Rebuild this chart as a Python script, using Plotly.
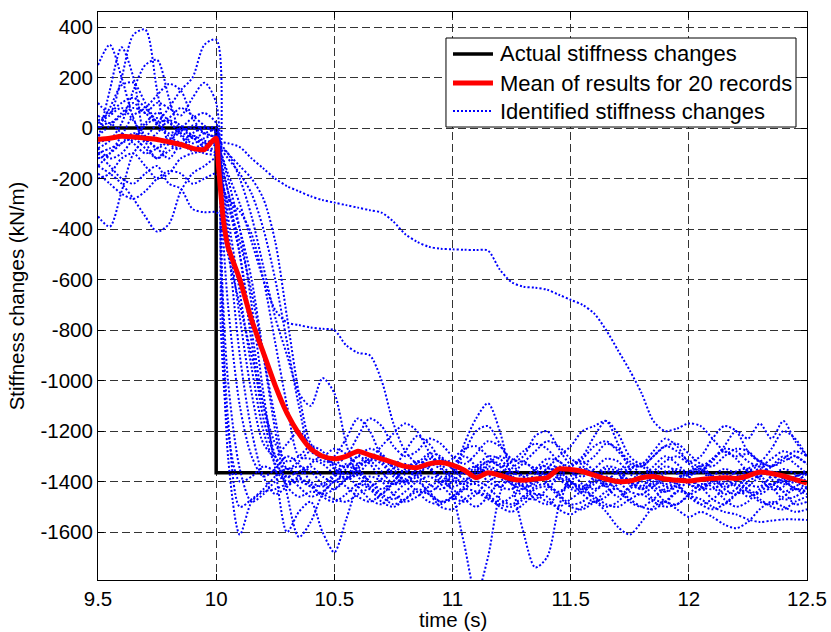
import plotly.graph_objects as go

# Sample times (s) shared by the 20 identified records
time_s = [9.50, 9.55, 9.60, 9.65, 9.70, 9.75, 9.80, 9.85, 9.90, 9.95, 10.00, 10.02,
          10.05, 10.10, 10.15, 10.20, 10.25, 10.30, 10.35, 10.40, 10.45, 10.50,
          10.55, 10.60, 10.65, 10.70, 10.75, 10.80, 10.85, 10.90, 10.95, 11.00,
          11.05, 11.10, 11.15, 11.20, 11.25, 11.30, 11.35, 11.40, 11.45, 11.50,
          11.55, 11.60, 11.65, 11.70, 11.75, 11.80, 11.85, 11.90, 11.95, 12.00,
          12.05, 12.10, 12.15, 12.20, 12.25, 12.30, 12.35, 12.40, 12.45, 12.50]

# Identified stiffness changes (kN/m), one list per record
rec01 = [100, 60, 200, 370, 390, 150, -60, -80, -30, -50, -60, -300,
         -700, -1100, -1300, -1380, -1350, -1300, -1330, -1400, -1420, -1380,
         -1340, -1360, -1420, -1450, -1400, -1350, -1380, -1440, -1410, -1360,
         -1300, -1340, -1400, -1420, -1380, -1330, -1350, -1410, -1440, -1400,
         -1350, -1370, -1420, -1460, -1420, -1380, -1400, -1440, -1420, -1380,
         -1360, -1400, -1450, -1430, -1380, -1350, -1390, -1440, -1420, -1390]
rec02 = [250, 330, 200, 40, -50, -20, 30, 10, -40, -20, -10, -150,
         -400, -750, -1050, -1250, -1300, -1250, -1200, -1260, -1320, -1300,
         -1230, -1150, -1200, -1300, -1340, -1280, -1220, -1250, -1310, -1330,
         -1280, -1200, -1180, -1250, -1320, -1300, -1220, -1200, -1270, -1330,
         -1300, -1220, -1160, -1210, -1300, -1330, -1280, -1230, -1260, -1320,
         -1300, -1230, -1180, -1200, -1280, -1320, -1270, -1200, -1230, -1300]
rec03 = [-50, 150, 320, 200, -50, -120, -60, 0, -30, -80, -100, -200,
         -300, -500, -800, -1100, -1300, -1420, -1460, -1440, -1450, -1470,
         -1480, -1450, -1430, -1460, -1490, -1470, -1440, -1450, -1480, -1460,
         -1430, -1440, -1470, -1490, -1460, -1430, -1450, -1480, -1500, -1470,
         -1440, -1460, -1490, -1500, -1470, -1450, -1480, -1500, -1490, -1460,
         -1470, -1500, -1520, -1530, -1550, -1560, -1555, -1550, -1550, -1552]
rec04 = [-80, -50, 20, 150, 250, 270, 120, -20, -60, -40, -30, -120,
         -250, -500, -850, -1150, -1300, -1350, -1320, -1280, -1300, -1350,
         -1370, -1330, -1300, -1320, -1370, -1390, -1350, -1300, -1340, -1450,
         -1650, -1850, -1700, -1450, -1350, -1320, -1360, -1400, -1380, -1340,
         -1320, -1360, -1410, -1390, -1350, -1330, -1370, -1420, -1400, -1360,
         -1340, -1380, -1410, -1390, -1350, -1330, -1370, -1400, -1380, -1360]
rec05 = [20, 50, 80, 30, -30, 20, 80, 150, 200, 330, 350, -400,
         -1300, -1610, -1480, -1440, -1430, -1410, -1400, -1420, -1450, -1430,
         -1390, -1370, -1400, -1450, -1470, -1440, -1400, -1380, -1410, -1460,
         -1480, -1450, -1400, -1380, -1410, -1460, -1470, -1430, -1390, -1400,
         -1450, -1480, -1460, -1410, -1390, -1420, -1470, -1480, -1440, -1400,
         -1420, -1470, -1490, -1450, -1400, -1380, -1420, -1470, -1460, -1430]
rec06 = [-150, -100, -30, 50, 80, 130, 175, 150, 40, -20, -40, -100,
         -200, -400, -700, -1050, -1350, -1600, -1520, -1480, -1600, -1680,
         -1550, -1420, -1380, -1400, -1450, -1480, -1460, -1420, -1400, -1430,
         -1470, -1500, -1460, -1400, -1380, -1420, -1470, -1490, -1450, -1410,
         -1420, -1470, -1500, -1480, -1430, -1400, -1430, -1480, -1490, -1450,
         -1410, -1420, -1470, -1500, -1480, -1430, -1410, -1440, -1490, -1480]
rec07 = [0, 80, 170, 180, 100, 20, -30, -10, 0, -20, -40, -150,
         -350, -650, -950, -1200, -1330, -1380, -1360, -1340, -1380, -1400,
         -1350, -1300, -1330, -1390, -1410, -1370, -1320, -1340, -1400, -1380,
         -1250, -1150, -1090, -1200, -1400, -1600, -1740, -1700, -1500, -1380,
         -1340, -1380, -1420, -1400, -1350, -1340, -1380, -1410, -1390, -1360,
         -1350, -1390, -1420, -1400, -1360, -1340, -1370, -1410, -1400, -1370]
rec08 = [-100, -80, -60, -40, -80, -120, -90, -60, -80, -60, -50, -55,
         -60, -75, -120, -160, -200, -230, -250, -270, -285, -295,
         -305, -315, -325, -335, -370, -420, -450, -470, -478, -480,
         -482, -483, -485, -560, -610, -628, -632, -640, -660, -680,
         -700, -735, -800, -880, -960, -1050, -1160, -1200, -1190, -1170,
         -1180, -1230, -1280, -1300, -1290, -1320, -1340, -1320, -1300, -1330]
rec09 = [-200, -180, -120, -100, -150, -200, -180, -120, -100, -90, -80, -100,
         -180, -300, -450, -600, -720, -770, -780, -790, -795, -800,
         -860, -890, -900, -1000, -1170, -1280, -1330, -1350, -1380, -1400,
         -1410, -1380, -1350, -1370, -1410, -1430, -1400, -1370, -1390, -1430,
         -1440, -1410, -1380, -1400, -1440, -1450, -1420, -1390, -1410, -1450,
         -1430, -1400, -1390, -1420, -1460, -1440, -1410, -1400, -1430, -1450]
rec10 = [-350, -390, -250, -100, -50, -80, -120, -60, -20, 0, -20, -500,
         -1000, -1350, -1480, -1450, -1400, -1380, -1420, -1460, -1440, -1400,
         -1380, -1420, -1470, -1490, -1450, -1410, -1400, -1440, -1480, -1470,
         -1430, -1400, -1420, -1470, -1490, -1460, -1420, -1410, -1450, -1490,
         -1480, -1440, -1410, -1430, -1480, -1500, -1470, -1430, -1420, -1460,
         -1490, -1470, -1430, -1410, -1440, -1480, -1490, -1460, -1430, -1440]
rec11 = [-150, -180, -220, -280, -350, -410, -380, -250, -180, -150, -120, -200,
         -300, -450, -650, -900, -1150, -1350, -1340, -1360, -1410, -1430,
         -1390, -1340, -1320, -1360, -1410, -1400, -1350, -1310, -1330, -1380,
         -1400, -1360, -1320, -1340, -1390, -1410, -1370, -1330, -1350, -1400,
         -1420, -1380, -1340, -1350, -1400, -1420, -1380, -1340, -1360, -1410,
         -1420, -1380, -1350, -1370, -1410, -1420, -1380, -1350, -1370, -1400]
rec12 = [-100, -150, -200, -220, -180, -150, -220, -240, -320, -333, -333, -350,
         -500, -700, -900, -1100, -1250, -1320, -1300, -1260, -1280, -1330,
         -1300, -1220, -1150, -1180, -1260, -1300, -1280, -1230, -1250, -1300,
         -1330, -1290, -1240, -1260, -1310, -1320, -1280, -1240, -1260, -1310,
         -1330, -1300, -1250, -1270, -1320, -1340, -1300, -1260, -1280, -1320,
         -1340, -1310, -1270, -1280, -1320, -1340, -1310, -1280, -1300, -1330]
rec13 = [0, 20, -20, -40, 10, 40, 20, -10, 10, 0, 0, -800,
         -1200, -1400, -1380, -1340, -1360, -1400, -1380, -1330, -1300, -1340,
         -1390, -1370, -1320, -1300, -1350, -1400, -1380, -1330, -1310, -1350,
         -1390, -1370, -1330, -1300, -1330, -1380, -1390, -1350, -1300, -1260,
         -1200, -1180, -1160, -1250, -1350, -1380, -1340, -1300, -1330, -1370,
         -1360, -1310, -1280, -1310, -1360, -1380, -1340, -1300, -1330, -1370]
rec14 = [-60, -40, -30, -60, -100, -80, -40, -60, -90, -70, -60, -200,
         -450, -900, -1200, -1380, -1450, -1420, -1390, -1410, -1460, -1480,
         -1450, -1410, -1430, -1480, -1500, -1470, -1430, -1450, -1500, -1510,
         -1470, -1440, -1460, -1500, -1520, -1490, -1450, -1460, -1510, -1530,
         -1500, -1480, -1520, -1580, -1610, -1560, -1500, -1480, -1510, -1540,
         -1520, -1540, -1570, -1585, -1560, -1510, -1480, -1500, -1520, -1510]
rec15 = [30, 60, 100, 120, 80, 20, -20, 0, 40, 60, 20, -60,
         -100, -150, -200, -280, -450, -750, -1050, -1250, -1300, -1330,
         -1340, -1300, -1270, -1290, -1340, -1360, -1330, -1290, -1300, -1350,
         -1370, -1340, -1300, -1310, -1360, -1380, -1350, -1310, -1320, -1360,
         -1380, -1350, -1310, -1320, -1370, -1390, -1360, -1320, -1300, -1330,
         -1360, -1320, -1260, -1200, -1230, -1170, -1230, -1160, -1240, -1300]
rec16 = [50, 20, 60, 100, 60, 100, 80, 50, 120, 180, 100, -600,
         -1150, -1500, -1470, -1430, -1380, -1350, -1380, -1420, -1410, -1370,
         -1330, -1350, -1400, -1430, -1400, -1350, -1320, -1340, -1390, -1420,
         -1400, -1350, -1320, -1330, -1380, -1420, -1410, -1370, -1340, -1360,
         -1410, -1430, -1400, -1360, -1340, -1370, -1420, -1440, -1410, -1370,
         -1350, -1380, -1430, -1450, -1420, -1380, -1360, -1390, -1430, -1420]
rec17 = [-120, -100, -60, -20, -40, -80, -50, -20, -40, -60, -70, -80,
         -100, -200, -350, -550, -750, -900, -1050, -1100, -990, -1050,
         -1250, -1380, -1420, -1390, -1350, -1330, -1360, -1410, -1430, -1400,
         -1360, -1340, -1370, -1420, -1430, -1390, -1350, -1340, -1380, -1420,
         -1430, -1390, -1350, -1360, -1400, -1430, -1410, -1370, -1350, -1380,
         -1420, -1430, -1400, -1360, -1350, -1390, -1430, -1420, -1380, -1370]
rec18 = [-30, 10, 50, 80, 60, 20, 40, 80, 50, 10, -20, -80,
         -120, -180, -260, -400, -600, -850, -1100, -1280, -1300, -1270,
         -1290, -1330, -1310, -1260, -1210, -1170, -1200, -1280, -1330, -1310,
         -1270, -1260, -1300, -1340, -1320, -1280, -1250, -1270, -1320, -1340,
         -1310, -1260, -1240, -1280, -1330, -1340, -1300, -1260, -1250, -1290,
         -1330, -1340, -1300, -1270, -1280, -1320, -1340, -1310, -1280, -1300]
rec19 = [-180, -220, -260, -280, -250, -200, -170, -180, -220, -200, -180, -220,
         -280, -330, -420, -600, -850, -1100, -1300, -1310, -1330, -1370,
         -1390, -1350, -1310, -1330, -1380, -1400, -1370, -1330, -1350, -1390,
         -1410, -1380, -1340, -1360, -1400, -1420, -1390, -1350, -1360, -1400,
         -1430, -1400, -1360, -1370, -1410, -1430, -1400, -1360, -1370, -1410,
         -1430, -1400, -1370, -1390, -1430, -1450, -1420, -1390, -1400, -1430]
rec20 = [-80, -120, -100, -40, 20, 60, 30, -30, -80, -100, -110, -150,
         -250, -400, -600, -900, -1200, -1450, -1620, -1560, -1450, -1400,
         -1420, -1460, -1480, -1450, -1410, -1400, -1440, -1480, -1490, -1460,
         -1420, -1410, -1450, -1490, -1500, -1470, -1430, -1420, -1460, -1500,
         -1510, -1480, -1440, -1430, -1470, -1500, -1510, -1480, -1440, -1450,
         -1490, -1510, -1490, -1450, -1440, -1470, -1500, -1510, -1480, -1460]

records = [rec01, rec02, rec03, rec04, rec05, rec06, rec07, rec08, rec09, rec10,
           rec11, rec12, rec13, rec14, rec15, rec16, rec17, rec18, rec19, rec20]
assert all(len(r) == len(time_s) for r in records)

# Actual (step) stiffness change
actual_t = [9.5, 10.0, 10.0, 12.5]
actual_k = [0, 0, -1365, -1365]

# Mean of the 20 identified records
mean_t = [9.50, 9.55, 9.60, 9.65, 9.70, 9.75, 9.80, 9.85, 9.90, 9.95, 9.98, 10.00,
          10.01, 10.03, 10.05, 10.10, 10.15, 10.20, 10.25, 10.30, 10.35, 10.40,
          10.45, 10.50, 10.55, 10.60, 10.65, 10.70, 10.75, 10.80, 10.85, 10.90,
          10.95, 11.00, 11.05, 11.10, 11.15, 11.20, 11.25, 11.30, 11.35, 11.40,
          11.45, 11.50, 11.55, 11.60, 11.65, 11.70, 11.75, 11.80, 11.85, 11.90,
          11.95, 12.00, 12.05, 12.10, 12.15, 12.20, 12.25, 12.30, 12.35, 12.40,
          12.45, 12.50]
mean_k = [-45, -40, -32, -35, -40, -45, -55, -65, -80, -85, -55, -40,
          -150, -360, -470, -600, -760, -890, -1020, -1130, -1210, -1270,
          -1300, -1310, -1300, -1280, -1295, -1310, -1325, -1340, -1345, -1330,
          -1325, -1335, -1355, -1385, -1365, -1375, -1390, -1395, -1390, -1385,
          -1350, -1352, -1360, -1375, -1390, -1400, -1398, -1385, -1380, -1390,
          -1395, -1398, -1392, -1388, -1385, -1388, -1378, -1362, -1368, -1378,
          -1392, -1406]

x_ticks = [9.5, 10, 10.5, 11, 11.5, 12, 12.5]
x_tick_text = ["9.5", "10", "10.5", "11", "11.5", "12", "12.5"]
y_ticks = [400, 200, 0, -200, -400, -600, -800, -1000, -1200, -1400, -1600]
y_tick_text = ["400", "200", "0", "-200", "-400", "-600", "-800", "-1000",
               "-1200", "-1400", "-1600"]

legend_names = ["Actual stiffness changes", "Mean of results for 20 records",
                "Identified stiffness changes"]

FONT = "Liberation Sans, Arial, Helvetica, sans-serif"
TICK_SIZE = 20.5
LEGEND_SIZE = 22

BLACK = "black"
RED = "#ff0000"
BLUE = "#0000ff"
BLUE_DASH = "2px,2px"

fig = go.Figure()

fig.add_trace(go.Scatter(
    x=actual_t, y=actual_k, mode="lines", name=legend_names[0],
    line=dict(color=BLACK, width=3.5)))

for rec in records:
    fig.add_trace(go.Scatter(
        x=time_s, y=rec, mode="lines", name=legend_names[2],
        line=dict(color=BLUE, width=2, dash=BLUE_DASH, shape="spline",
                  smoothing=0.8),
        hoverinfo="skip"))

fig.add_trace(go.Scatter(
    x=mean_t, y=mean_k, mode="lines", name=legend_names[1],
    line=dict(color=RED, width=5, shape="spline", smoothing=0.6)))

axis_common = dict(
    showline=True, linecolor="black", linewidth=1, mirror="ticks",
    ticks="inside", ticklen=6, tickcolor="black", automargin=False,
    showgrid=True, gridcolor="#333333", gridwidth=1, griddash="8px,4px",
    zeroline=False, tickfont=dict(family=FONT, size=TICK_SIZE, color="black"),
)

fig.update_xaxes(range=[9.5, 12.5], tickvals=x_ticks, ticktext=x_tick_text,
                 ticklabelstandoff=0, **axis_common)
fig.update_yaxes(range=[-1790, 460], tickvals=y_ticks, ticktext=y_tick_text,
                 title=dict(text="Stiffness changes (kN/m)", standoff=10,
                            font=dict(family=FONT, size=TICK_SIZE, color="black")),
                 **axis_common)

# Boxed legend in the upper right of the axes (paper coordinates)
box_x0, box_x1, box_y0, box_y1 = 0.4908, 0.9845, 0.7975, 0.9542
row_y = [0.9261, 0.8750, 0.8257]
sample_x0, sample_x1, text_x = 0.5007, 0.5571, 0.5642
sample_styles = [dict(color=BLACK, width=3.5), dict(color=RED, width=5),
                 dict(color=BLUE, width=2, dash=BLUE_DASH)]

shapes = [dict(type="rect", xref="paper", yref="paper", x0=box_x0, x1=box_x1,
               y0=box_y0, y1=box_y1, line=dict(color="black", width=1),
               fillcolor="white", layer="above")]
annotations = []
for y, style, name in zip(row_y, sample_styles, legend_names):
    shapes.append(dict(type="line", xref="paper", yref="paper", x0=sample_x0,
                       x1=sample_x1, y0=y, y1=y, line=style, layer="above"))
    annotations.append(dict(text=name, xref="paper", yref="paper", x=text_x, y=y,
                            xanchor="left", yanchor="middle", showarrow=False,
                            font=dict(family=FONT, size=LEGEND_SIZE, color="black")))

# x-axis title
annotations.append(dict(text="time (s)", xref="paper", yref="paper", x=0.5,
                        y=-0.0704, xanchor="center", yanchor="middle",
                        showarrow=False,
                        font=dict(family=FONT, size=TICK_SIZE, color="black")))

fig.update_layout(
    width=831, height=632,
    margin=dict(l=98, r=24, t=12, b=52),
    paper_bgcolor="white", plot_bgcolor="white",
    font=dict(family=FONT, size=TICK_SIZE, color="black"),
    showlegend=False,
    shapes=shapes,
    annotations=annotations,
)

fig.write_html("out.html")
